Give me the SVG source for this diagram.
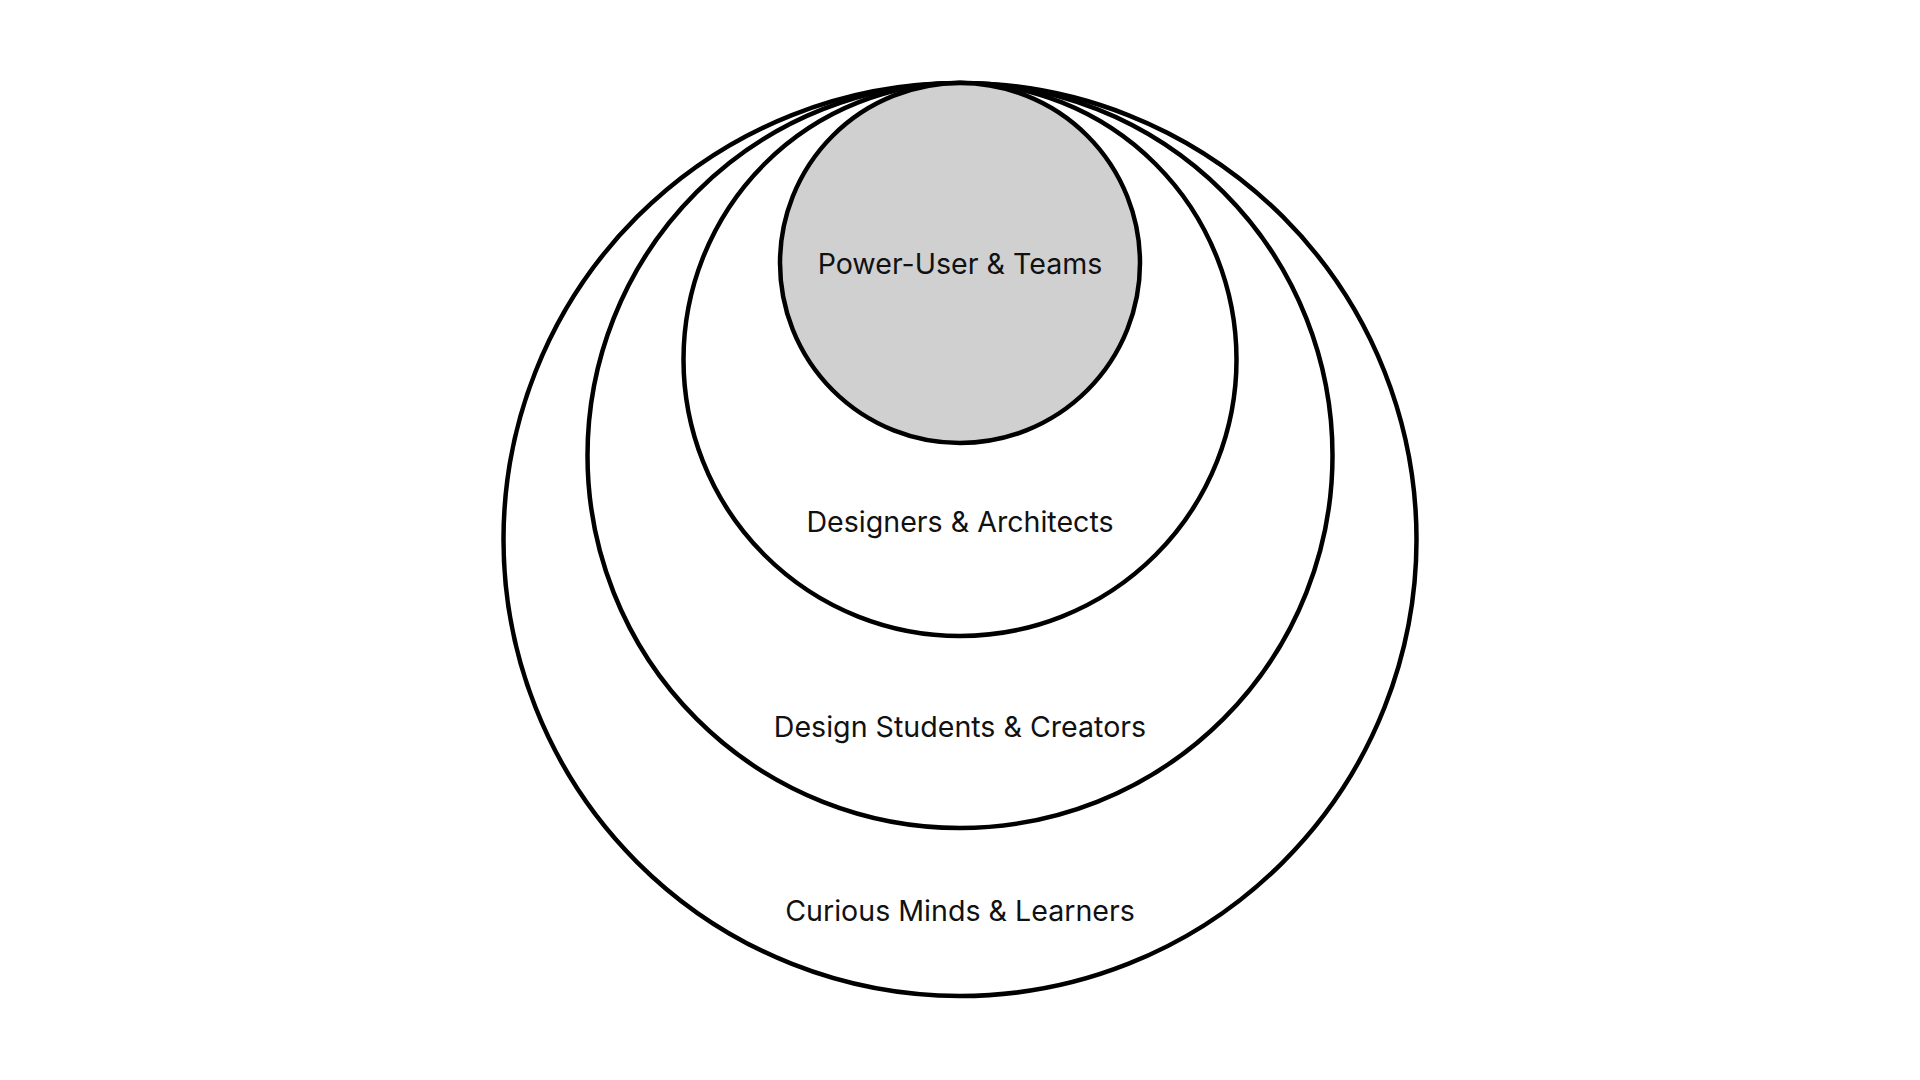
<svg xmlns="http://www.w3.org/2000/svg" width="1920" height="1080" viewBox="0 0 1920 1080">
<style>
.ring{fill:none;stroke:#000;stroke-width:4.5}
.core{fill:#d0d0d0;stroke:#000;stroke-width:4.5}
.lbl{font-family:Inter,"Liberation Sans",sans-serif;font-size:28.6px;fill:#111;text-anchor:middle}
</style>
<rect width="1920" height="1080" fill="#fff"/>
<g id="curious-minds">
<circle class="ring" cx="960" cy="539.5" r="456.5"/>
<text class="lbl" x="960" y="921">Curious Minds &amp; Learners</text>
</g>
<g id="design-students">
<circle class="ring" cx="960" cy="455.5" r="372.5"/>
<text class="lbl" x="960" y="737">Design Students &amp; Creators</text>
</g>
<g id="designers">
<circle class="ring" cx="960" cy="359.5" r="276.5"/>
<text class="lbl" x="960" y="532">Designers &amp; Architects</text>
</g>
<g id="power-users">
<circle class="core" cx="960" cy="263" r="180"/>
<text class="lbl" x="960" y="274">Power-User &amp; Teams</text>
</g>
<g id="connectors"/>
</svg>
